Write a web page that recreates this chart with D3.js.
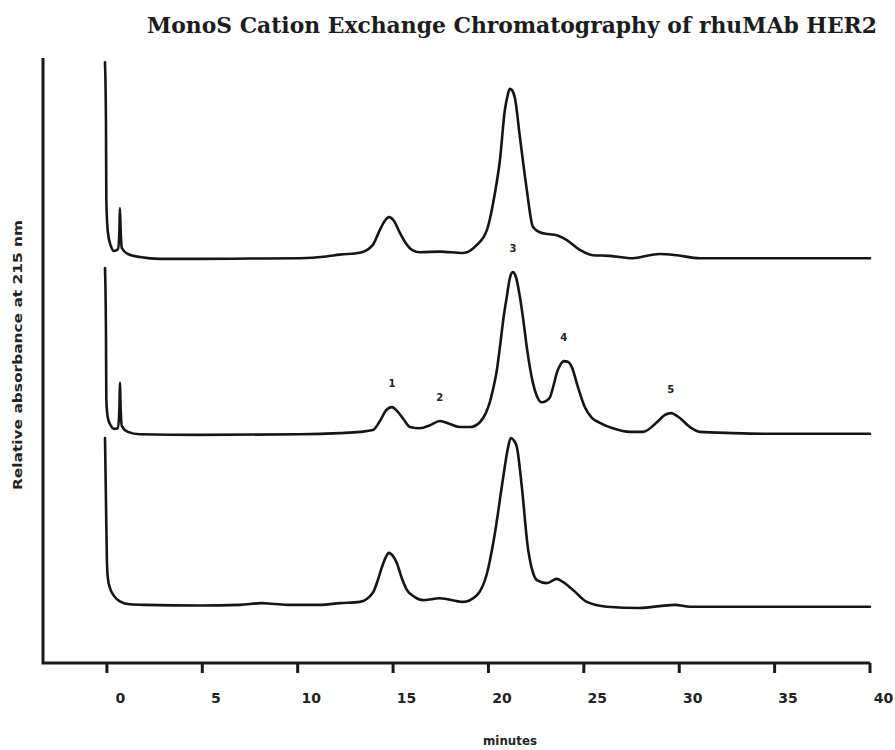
<!DOCTYPE html>
<html>
<head>
<meta charset="utf-8">
<script src="https://cdn.jsdelivr.net/npm/d3@7"></script>
<style>
  body { margin: 0; background: #fff; }
  svg { display: block; }
  .title { font-family: "DejaVu Serif", serif; font-weight: bold; font-size: 22px; fill: #1c1c1c; }
  .axis-label { font-family: "DejaVu Sans", sans-serif; font-weight: bold; font-size: 12px; fill: #222; }
  .tick text { font-family: "DejaVu Sans", sans-serif; font-weight: bold; font-size: 14px; fill: #222; }
  .peak-label { font-family: "DejaVu Sans", sans-serif; font-weight: bold; font-size: 10px; fill: #222; }
  .trace { fill: none; stroke: #151515; stroke-width: 2.6; stroke-linejoin: round; stroke-linecap: round; }
</style>
</head>
<body>
<svg width="895" height="750"></svg>
<script>
// retention time (minutes) vs relative absorbance at 215 nm, one array per run
// values are heights above each run's own baseline
var traceTop = [
  [-0.10, 32.3], [-0.05, 22.7], [-0.03, 9.5], [0.05, 4.2], [0.21, 1.9], [0.37, 1.1],
  [0.58, 1.4], [0.66, 4.9], [0.68, 8.2], [0.72, 4.6], [0.78, 1.6], [1.10, 0.6],
  [1.73, 0.1], [2.78, -0.2], [4.87, -0.2], [7.49, -0.15], [10.1, -0.1], [11.5, 0.2],
  [12.2, 0.5], [13.26, 0.8], [13.94, 2.1], [14.31, 4.6], [14.57, 6.1], [14.78, 6.7],
  [15.04, 6.1], [15.36, 4.1], [15.67, 2.4], [15.99, 1.3], [16.40, 0.9], [17.45, 1.0],
  [18.66, 0.76], [19.39, 2.1], [19.92, 4.6], [20.34, 10.7], [20.60, 16.1], [20.86, 24.4],
  [21.02, 27.0], [21.12, 27.9], [21.23, 27.7], [21.38, 26.5], [21.65, 19.9], [22.01, 11.2],
  [22.33, 5.1], [22.69, 4.2], [23.11, 3.9], [23.58, 3.7], [24.11, 2.9], [24.79, 1.3],
  [25.47, 0.4], [26.36, 0.3], [27.57, -0.1], [28.46, 0.4], [28.98, 0.6], [29.87, 0.4],
  [31.08, -0.1], [33.70, -0.1], [36.32, -0.1], [40.0, -0.1]
];

var traceMiddle = [
  [-0.10, 27.4], [-0.05, 17.1], [-0.03, 5.6], [0.05, 2.6], [0.21, 1.3], [0.37, 0.8],
  [0.58, 0.9], [0.66, 4.7], [0.68, 8.4], [0.72, 4.2], [0.78, 1.3], [1.10, 0.3],
  [1.73, -0.1], [4.87, -0.2], [10.1, -0.1], [12.2, 0.1], [13.26, 0.3], [13.94, 0.6],
  [14.31, 2.1], [14.62, 3.8], [14.94, 4.4], [15.25, 3.6], [15.57, 2.3], [15.88, 1.1],
  [16.40, 0.9], [16.93, 1.4], [17.45, 2.1], [17.98, 1.6], [18.50, 1.1], [19.03, 1.1],
  [19.55, 1.9], [19.86, 3.4], [20.07, 5.2], [20.23, 7.2], [20.44, 10.5], [20.60, 14.3],
  [20.81, 19.6], [20.96, 22.6], [21.12, 25.7], [21.28, 26.7], [21.44, 25.9], [21.65, 22.6],
  [21.86, 18.0], [22.01, 14.3], [22.17, 11.0], [22.33, 8.4], [22.54, 6.2], [22.80, 5.2],
  [23.01, 5.4], [23.22, 6.0], [23.43, 8.2], [23.58, 10.0], [23.79, 11.5], [23.95, 12.0],
  [24.16, 11.9], [24.37, 11.0], [24.69, 7.7], [25.05, 4.4], [25.42, 2.6], [25.84, 1.8],
  [26.52, 0.9], [27.41, 0.3], [28.09, 0.3], [28.83, 1.9], [29.25, 3.1], [29.56, 3.4],
  [30.03, 2.6], [30.56, 1.1], [31.08, 0.3], [32.81, 0.1], [34.59, 0.0], [40.0, 0.0]
];

var traceBottom = [
  [-0.10, 27.9], [-0.05, 17.6], [0.0, 7.7], [0.05, 4.7], [0.16, 3.1], [0.37, 1.8],
  [0.68, 0.9], [1.21, 0.4], [1.99, 0.3], [4.87, 0.2], [6.97, 0.3], [8.12, 0.6],
  [8.65, 0.5], [9.59, 0.3], [11.16, 0.3], [12.21, 0.6], [13.26, 0.8], [13.94, 2.3],
  [14.20, 4.4], [14.41, 6.5], [14.62, 8.2], [14.78, 8.9], [14.99, 8.4], [15.20, 7.2],
  [15.46, 4.7], [15.72, 2.8], [16.14, 1.6], [16.56, 1.1], [17.45, 1.4], [18.66, 0.8],
  [19.39, 1.9], [19.92, 5.5], [20.34, 12.2], [20.75, 20.9], [21.02, 26.2], [21.17, 27.9],
  [21.33, 27.5], [21.49, 26.4], [21.75, 19.8], [22.06, 9.9], [22.33, 5.7], [22.54, 4.4],
  [23.06, 3.9], [23.58, 4.6], [23.90, 4.1], [24.42, 2.8], [25.16, 0.8], [26.21, 0.0],
  [27.94, -0.2], [28.98, 0.1], [29.77, 0.3], [30.56, 0.0], [33.70, 0.0], [40.0, 0.0]
];

// vertical offset of each run's baseline
var baselines = [67.0, 37.9, 9.3];

// numbered peaks marked on the middle run
var peakNames = ["1", "2", "3", "4", "5"];
var peakTimes = [14.94, 17.45, 21.28, 23.95, 29.56];

var xTicks = [0, 5, 10, 15, 20, 25, 30, 35, 40];

var svg = d3.select("svg"),
    width = +svg.attr("width"),
    height = +svg.attr("height");

var margin = {top: 58, right: 25, bottom: 87, left: 43};

var x = d3.scaleLinear()
    .domain([-3.35, 40])
    .range([margin.left, width - margin.right]);

var y = d3.scaleLinear()
    .domain([0, 100])
    .range([height - margin.bottom, margin.top]);

// title
svg.append("text")
    .attr("class", "title")
    .attr("x", 147)
    .attr("y", 33)
    .attr("textLength", 730)
    .attr("lengthAdjust", "spacingAndGlyphs")
    .text("MonoS Cation Exchange Chromatography of rhuMAb HER2");

// left and bottom frame, with the minute ticks hanging from the bottom edge
var frame = d3.path();
frame.moveTo(x(-3.35), y(100));
frame.lineTo(x(-3.35), y(0));
frame.lineTo(x(40), y(0));
xTicks.forEach(function (t) {
    frame.moveTo(x(t), y(0));
    frame.lineTo(x(t), y(0) + 10);
});

svg.append("path")
    .attr("d", frame.toString())
    .attr("fill", "none")
    .attr("stroke", "#1a1a1a")
    .attr("stroke-width", 3);

// x axis labels, set a little right of their ticks
var xAxis = d3.axisBottom(x)
    .tickValues(xTicks)
    .tickSize(0)
    .tickSizeOuter(0);

var gx = svg.append("g")
    .attr("transform", "translate(0," + y(0) + ")")
    .call(xAxis);

gx.select(".domain").remove();
gx.selectAll(".tick line").remove();
gx.selectAll(".tick text")
    .attr("y", 30)
    .attr("dx", 13);

// axis titles
svg.append("text")
    .attr("class", "axis-label")
    .attr("text-anchor", "middle")
    .attr("transform", "translate(22," + 355 + ") rotate(-90)")
    .attr("textLength", 270)
    .attr("lengthAdjust", "spacingAndGlyphs")
    .text("Relative absorbance at 215 nm");

svg.append("text")
    .attr("class", "axis-label")
    .attr("text-anchor", "middle")
    .attr("x", 510)
    .attr("y", 745)
    .attr("textLength", 54)
    .attr("lengthAdjust", "spacingAndGlyphs")
    .text("minutes");

// the three chromatograms
var traces = [traceTop, traceMiddle, traceBottom];

traces.forEach(function (data, i) {
    var line = d3.line()
        .x(function (d) { return x(d[0]); })
        .y(function (d) { return y(d[1] + baselines[i]); })
        .curve(d3.curveMonotoneX);

    svg.append("path")
        .datum(data)
        .attr("class", "trace")
        .attr("d", line);
});

// peak numbers above the middle run
function peakHeight(t) {
    var near = traceMiddle.filter(function (d) { return Math.abs(d[0] - t) < 0.4; });
    return d3.max(near, function (d) { return d[1]; });
}

svg.selectAll(".peak-label")
    .data(peakNames)
    .enter().append("text")
    .attr("class", "peak-label")
    .attr("text-anchor", "middle")
    .attr("x", function (d, i) { return x(peakTimes[i]); })
    .attr("y", function (d, i) { return y(peakHeight(peakTimes[i]) + baselines[1]) - 20; })
    .text(function (d) { return d; });
</script>
</body>
</html>
